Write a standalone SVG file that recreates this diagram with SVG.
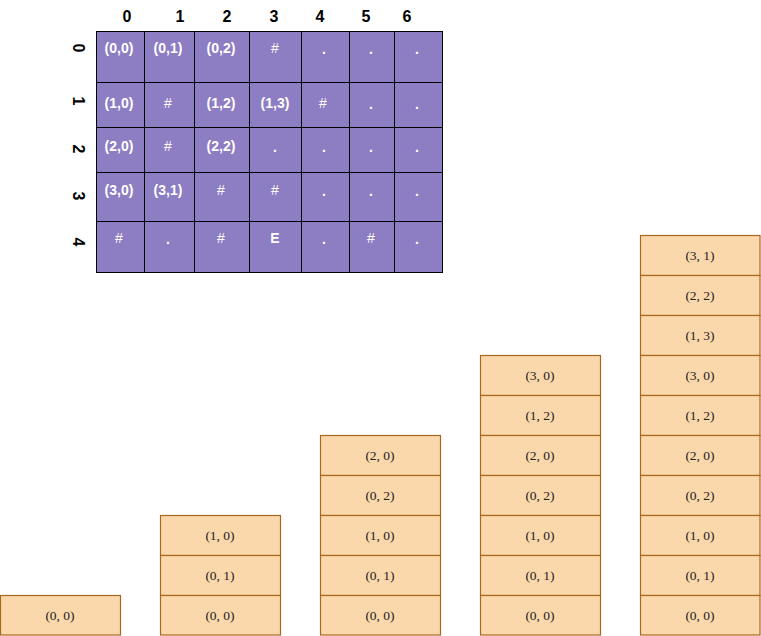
<svg xmlns="http://www.w3.org/2000/svg" width="761" height="636" viewBox="0 0 761 636">
<style>
.g rect{fill:#8d7dc3;stroke:#000;stroke-width:1}
.g text{fill:#fff;font-family:"Liberation Sans",Arial,sans-serif;font-size:14px;font-weight:bold;text-anchor:middle}
.g text.h{font-weight:normal}
.hd{fill:#000;font-family:"Liberation Sans",Arial,sans-serif;font-size:16px;font-weight:bold;text-anchor:middle}
.s rect{fill:#fad8ab;stroke:#a9661f;stroke-width:1.2}
.s text{fill:#222;font-family:"Liberation Serif","Times New Roman",serif;font-size:13.5px;text-anchor:middle}
</style>
<rect width="761" height="636" fill="#fff"/>
<g id="headers">
<text class="hd" x="127" y="22">0</text>
<text class="hd" x="180" y="22">1</text>
<text class="hd" x="227" y="22">2</text>
<text class="hd" x="274" y="22">3</text>
<text class="hd" x="320" y="22">4</text>
<text class="hd" x="366" y="22">5</text>
<text class="hd" x="407" y="22">6</text>
<text class="hd" transform="translate(73,48) rotate(90)">0</text>
<text class="hd" transform="translate(73,101) rotate(90)">1</text>
<text class="hd" transform="translate(73,149) rotate(90)">2</text>
<text class="hd" transform="translate(73,196) rotate(90)">3</text>
<text class="hd" transform="translate(73,242) rotate(90)">4</text>
</g>
<g id="grid" class="g">
<rect x="96.5" y="31.5" width="48" height="51"/>
<rect x="144.5" y="31.5" width="50" height="51"/>
<rect x="194.5" y="31.5" width="55" height="51"/>
<rect x="249.5" y="31.5" width="52" height="51"/>
<rect x="301.5" y="31.5" width="48" height="51"/>
<rect x="349.5" y="31.5" width="45" height="51"/>
<rect x="394.5" y="31.5" width="48" height="51"/>
<rect x="96.5" y="82.5" width="48" height="45"/>
<rect x="144.5" y="82.5" width="50" height="45"/>
<rect x="194.5" y="82.5" width="55" height="45"/>
<rect x="249.5" y="82.5" width="52" height="45"/>
<rect x="301.5" y="82.5" width="48" height="45"/>
<rect x="349.5" y="82.5" width="45" height="45"/>
<rect x="394.5" y="82.5" width="48" height="45"/>
<rect x="96.5" y="127.5" width="48" height="45"/>
<rect x="144.5" y="127.5" width="50" height="45"/>
<rect x="194.5" y="127.5" width="55" height="45"/>
<rect x="249.5" y="127.5" width="52" height="45"/>
<rect x="301.5" y="127.5" width="48" height="45"/>
<rect x="349.5" y="127.5" width="45" height="45"/>
<rect x="394.5" y="127.5" width="48" height="45"/>
<rect x="96.5" y="172.5" width="48" height="49"/>
<rect x="144.5" y="172.5" width="50" height="49"/>
<rect x="194.5" y="172.5" width="55" height="49"/>
<rect x="249.5" y="172.5" width="52" height="49"/>
<rect x="301.5" y="172.5" width="48" height="49"/>
<rect x="349.5" y="172.5" width="45" height="49"/>
<rect x="394.5" y="172.5" width="48" height="49"/>
<rect x="96.5" y="221.5" width="48" height="51"/>
<rect x="144.5" y="221.5" width="50" height="51"/>
<rect x="194.5" y="221.5" width="55" height="51"/>
<rect x="249.5" y="221.5" width="52" height="51"/>
<rect x="301.5" y="221.5" width="48" height="51"/>
<rect x="349.5" y="221.5" width="45" height="51"/>
<rect x="394.5" y="221.5" width="48" height="51"/>
<text x="119" y="53">(0,0)</text>
<text x="168" y="53">(0,1)</text>
<text x="221" y="53">(0,2)</text>
<text class="h" x="275" y="53">#</text>
<text x="324" y="54">.</text>
<text x="371" y="54">.</text>
<text x="417" y="54">.</text>
<text x="119" y="108">(1,0)</text>
<text class="h" x="168" y="108">#</text>
<text x="221" y="108">(1,2)</text>
<text x="275" y="108">(1,3)</text>
<text class="h" x="323" y="108">#</text>
<text x="371" y="109">.</text>
<text x="417" y="109">.</text>
<text x="119" y="151">(2,0)</text>
<text class="h" x="168" y="151">#</text>
<text x="221" y="151">(2,2)</text>
<text x="275" y="152">.</text>
<text x="324" y="152">.</text>
<text x="371" y="152">.</text>
<text x="417" y="152">.</text>
<text x="119" y="195">(3,0)</text>
<text x="168" y="195">(3,1)</text>
<text class="h" x="221" y="195">#</text>
<text class="h" x="275" y="195">#</text>
<text x="324" y="196">.</text>
<text x="371" y="196">.</text>
<text x="417" y="196">.</text>
<text class="h" x="119" y="243">#</text>
<text x="168" y="244">.</text>
<text class="h" x="221" y="243">#</text>
<text x="275" y="243">E</text>
<text x="324" y="244">.</text>
<text class="h" x="371" y="243">#</text>
<text x="417" y="244">.</text>
</g>
<g id="stack1" class="s">
<rect x="0.5" y="595.5" width="120" height="39.5"/>
<text x="60" y="620">(0, 0)</text>
</g>
<g id="stack2" class="s">
<rect x="160.5" y="515.5" width="120" height="40"/>
<rect x="160.5" y="555.5" width="120" height="40"/>
<rect x="160.5" y="595.5" width="120" height="39.5"/>
<text x="220" y="540">(1, 0)</text>
<text x="220" y="580">(0, 1)</text>
<text x="220" y="620">(0, 0)</text>
</g>
<g id="stack3" class="s">
<rect x="320.5" y="435.5" width="120" height="40"/>
<rect x="320.5" y="475.5" width="120" height="40"/>
<rect x="320.5" y="515.5" width="120" height="40"/>
<rect x="320.5" y="555.5" width="120" height="40"/>
<rect x="320.5" y="595.5" width="120" height="39.5"/>
<text x="380" y="460">(2, 0)</text>
<text x="380" y="500">(0, 2)</text>
<text x="380" y="540">(1, 0)</text>
<text x="380" y="580">(0, 1)</text>
<text x="380" y="620">(0, 0)</text>
</g>
<g id="stack4" class="s">
<rect x="480.5" y="355.5" width="120" height="40"/>
<rect x="480.5" y="395.5" width="120" height="40"/>
<rect x="480.5" y="435.5" width="120" height="40"/>
<rect x="480.5" y="475.5" width="120" height="40"/>
<rect x="480.5" y="515.5" width="120" height="40"/>
<rect x="480.5" y="555.5" width="120" height="40"/>
<rect x="480.5" y="595.5" width="120" height="39.5"/>
<text x="540" y="380">(3, 0)</text>
<text x="540" y="420">(1, 2)</text>
<text x="540" y="460">(2, 0)</text>
<text x="540" y="500">(0, 2)</text>
<text x="540" y="540">(1, 0)</text>
<text x="540" y="580">(0, 1)</text>
<text x="540" y="620">(0, 0)</text>
</g>
<g id="stack5" class="s">
<rect x="640.5" y="235.5" width="119.5" height="40"/>
<rect x="640.5" y="275.5" width="119.5" height="40"/>
<rect x="640.5" y="315.5" width="119.5" height="40"/>
<rect x="640.5" y="355.5" width="119.5" height="40"/>
<rect x="640.5" y="395.5" width="119.5" height="40"/>
<rect x="640.5" y="435.5" width="119.5" height="40"/>
<rect x="640.5" y="475.5" width="119.5" height="40"/>
<rect x="640.5" y="515.5" width="119.5" height="40"/>
<rect x="640.5" y="555.5" width="119.5" height="40"/>
<rect x="640.5" y="595.5" width="119.5" height="39.5"/>
<text x="700" y="260">(3, 1)</text>
<text x="700" y="300">(2, 2)</text>
<text x="700" y="340">(1, 3)</text>
<text x="700" y="380">(3, 0)</text>
<text x="700" y="420">(1, 2)</text>
<text x="700" y="460">(2, 0)</text>
<text x="700" y="500">(0, 2)</text>
<text x="700" y="540">(1, 0)</text>
<text x="700" y="580">(0, 1)</text>
<text x="700" y="620">(0, 0)</text>
</g>
<g id="connectors"></g>
</svg>
